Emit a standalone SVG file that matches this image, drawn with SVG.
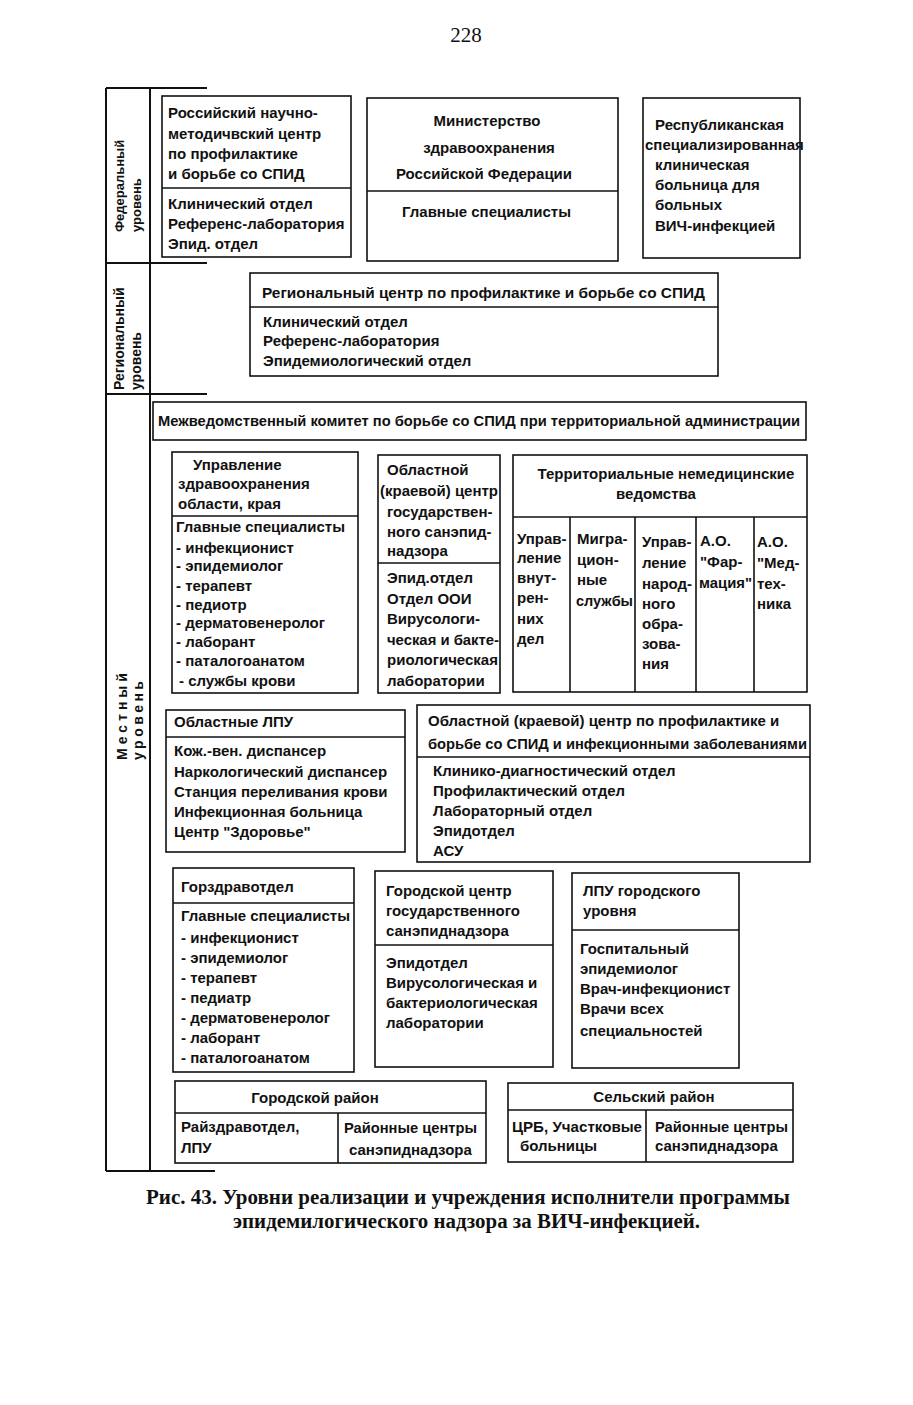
<svg xmlns="http://www.w3.org/2000/svg" width="913" height="1405" viewBox="0 0 913 1405">
<style>
.bg{fill:#fff}
.b{fill:none;stroke:#111;stroke-width:1.6}
.ln{stroke:#111;stroke-width:1.6;fill:none}
.fr{stroke:#111;stroke-width:2;fill:none}
.t{font-family:"Liberation Sans",Arial,sans-serif;font-size:15px;font-weight:bold;fill:#111}
.c{text-anchor:middle}
.lv{font-family:"Liberation Sans",Arial,sans-serif;font-size:13px;font-weight:bold;fill:#111}
.cap{font-family:"Liberation Serif","Times New Roman",serif;font-size:20px;font-weight:bold;fill:#111}
.pg{font-family:"Liberation Serif","Times New Roman",serif;font-size:21px;fill:#111}
</style>
<rect class="bg" x="0" y="0" width="913" height="1405"/>
<text class="pg" x="466" y="42" text-anchor="middle">228</text>

<g id="levels">
<line class="fr" x1="106" y1="88" x2="106" y2="1171"/>
<line class="fr" x1="150" y1="88" x2="150" y2="1171"/>
<line class="fr" x1="106" y1="88" x2="207" y2="88"/>
<line class="fr" x1="106" y1="263" x2="207" y2="263"/>
<line class="fr" x1="106" y1="394" x2="207" y2="394"/>
<line class="fr" x1="106" y1="1171" x2="215" y2="1171"/>
<text class="lv" transform="translate(124,232) rotate(-90)">Федеральный</text>
<text class="lv" transform="translate(141,232) rotate(-90)">уровень</text>
<text class="lv" transform="translate(124,390) rotate(-90)" style="font-size:14px">Региональный</text>
<text class="lv" transform="translate(141,390) rotate(-90)" style="font-size:14px">уровень</text>
<text class="lv" transform="translate(127,760) rotate(-90)" style="font-size:14px;letter-spacing:4px">Местный</text>
<text class="lv" transform="translate(143,760) rotate(-90)" style="font-size:14px;letter-spacing:3.5px">уровень</text>
</g>

<g id="node-rnmc">
<rect class="b" x="162" y="96" width="189" height="161"/>
<line class="ln" x1="162" y1="188" x2="351" y2="188"/>
<text class="t" x="168" y="118">Российский научно-</text>
<text class="t" x="168" y="139">методичвский центр</text>
<text class="t" x="168" y="159">по профилактике</text>
<text class="t" x="168" y="179">и борьбе со СПИД</text>
<text class="t" x="168" y="209">Клинический отдел</text>
<text class="t" x="168" y="229">Референс-лаборатория</text>
<text class="t" x="168" y="249">Эпид. отдел</text>
</g>

<g id="node-minzdrav">
<rect class="b" x="367" y="98" width="251" height="163"/>
<line class="ln" x1="367" y1="191" x2="618" y2="191"/>
<text class="t c" x="487" y="126">Министерство</text>
<text class="t c" x="489" y="153">здравоохранения</text>
<text class="t c" x="484" y="179">Российской Федерации</text>
<text class="t" x="402" y="217">Главные специалисты</text>
</g>

<g id="node-rskb">
<rect class="b" x="643" y="98" width="157" height="160"/>
<text class="t" x="655" y="130">Республиканская</text>
<text class="t" x="645" y="150">специализированная</text>
<text class="t" x="655" y="170">клиническая</text>
<text class="t" x="655" y="190">больница для</text>
<text class="t" x="655" y="210">больных</text>
<text class="t" x="655" y="231">ВИЧ-инфекцией</text>
</g>

<g id="node-regional">
<rect class="b" x="250" y="273" width="468" height="103"/>
<line class="ln" x1="250" y1="307" x2="718" y2="307"/>
<text class="t" x="262" y="298" textLength="443" lengthAdjust="spacingAndGlyphs">Региональный центр по профилактике и борьбе со СПИД</text>
<text class="t" x="263" y="327">Клинический отдел</text>
<text class="t" x="263" y="346">Референс-лаборатория</text>
<text class="t" x="263" y="366">Эпидемиологический отдел</text>
</g>

<g id="node-mezhved">
<rect class="b" x="153" y="402" width="653" height="38"/>
<text class="t" x="158" y="426" textLength="642" lengthAdjust="spacingAndGlyphs">Межведомственный комитет по борьбе со СПИД при территориальной администрации</text>
</g>

<g id="node-upravlenie">
<rect class="b" x="172" y="452" width="186" height="241"/>
<line class="ln" x1="172" y1="516" x2="358" y2="516"/>
<text class="t" x="193" y="470">Управление</text>
<text class="t" x="178" y="489">здравоохранения</text>
<text class="t" x="178" y="509">области, края</text>
<text class="t" x="176" y="532">Главные специалисты</text>
<text class="t" x="176" y="553">- инфекционист</text>
<text class="t" x="176" y="571">- эпидемиолог</text>
<text class="t" x="176" y="591">- терапевт</text>
<text class="t" x="176" y="610">- педиотр</text>
<text class="t" x="176" y="628">- дерматовенеролог</text>
<text class="t" x="176" y="647">- лаборант</text>
<text class="t" x="176" y="666">- паталогоанатом</text>
<text class="t" x="179" y="686">- службы крови</text>
</g>

<g id="node-oblsanepid">
<rect class="b" x="378" y="455" width="122" height="238"/>
<line class="ln" x1="378" y1="563" x2="500" y2="563"/>
<text class="t" x="387" y="475">Областной</text>
<text class="t" x="380" y="496" textLength="118" lengthAdjust="spacingAndGlyphs">(краевой) центр</text>
<text class="t" x="387" y="517">государствен-</text>
<text class="t" x="387" y="537">ного санэпид-</text>
<text class="t" x="387" y="556">надзора</text>
<text class="t" x="387" y="583">Эпид.отдел</text>
<text class="t" x="387" y="604">Отдел ООИ</text>
<text class="t" x="387" y="624">Вирусологи-</text>
<text class="t" x="387" y="645" textLength="112" lengthAdjust="spacingAndGlyphs">ческая и бакте-</text>
<text class="t" x="387" y="665">риологическая</text>
<text class="t" x="387" y="686">лаборатории</text>
</g>

<g id="node-nonmedical">
<rect class="b" x="513" y="455" width="294" height="237"/>
<line class="ln" x1="513" y1="517" x2="807" y2="517"/>
<line class="ln" x1="570" y1="517" x2="570" y2="692"/>
<line class="ln" x1="635" y1="517" x2="635" y2="692"/>
<line class="ln" x1="696" y1="517" x2="696" y2="692"/>
<line class="ln" x1="754" y1="517" x2="754" y2="692"/>
<text class="t c" x="666" y="479">Территориальные немедицинские</text>
<text class="t c" x="656" y="499">ведомства</text>
<text class="t" x="517" y="544">Управ-</text>
<text class="t" x="517" y="563">ление</text>
<text class="t" x="517" y="583">внут-</text>
<text class="t" x="517" y="603">рен-</text>
<text class="t" x="517" y="624">них</text>
<text class="t" x="517" y="644">дел</text>
<text class="t" x="577" y="544">Мигра-</text>
<text class="t" x="577" y="565">цион-</text>
<text class="t" x="577" y="585">ные</text>
<text class="t" x="576" y="606" textLength="57" lengthAdjust="spacingAndGlyphs">службы</text>
<text class="t" x="642" y="547">Управ-</text>
<text class="t" x="642" y="568">ление</text>
<text class="t" x="642" y="589">народ-</text>
<text class="t" x="642" y="609">ного</text>
<text class="t" x="642" y="629">обра-</text>
<text class="t" x="642" y="649">зова-</text>
<text class="t" x="642" y="669">ния</text>
<text class="t" x="700" y="546">А.О.</text>
<text class="t" x="700" y="567">"Фар-</text>
<text class="t" x="699" y="588" textLength="53" lengthAdjust="spacingAndGlyphs">мация"</text>
<text class="t" x="757" y="547">А.О.</text>
<text class="t" x="757" y="568">"Мед-</text>
<text class="t" x="757" y="589">тех-</text>
<text class="t" x="757" y="609">ника</text>
</g>

<g id="node-oblLPU">
<rect class="b" x="166" y="710" width="239" height="142"/>
<line class="ln" x1="166" y1="737" x2="405" y2="737"/>
<text class="t" x="174" y="727">Областные ЛПУ</text>
<text class="t" x="174" y="756">Кож.-вен. диспансер</text>
<text class="t" x="174" y="777">Наркологический диспансер</text>
<text class="t" x="174" y="797">Станция переливания крови</text>
<text class="t" x="174" y="817">Инфекционная больница</text>
<text class="t" x="174" y="837">Центр "Здоровье"</text>
</g>

<g id="node-oblSPID">
<rect class="b" x="417" y="705" width="393" height="157"/>
<line class="ln" x1="417" y1="757" x2="810" y2="757"/>
<text class="t" x="428" y="726">Областной (краевой) центр по профилактике и</text>
<text class="t" x="428" y="749" textLength="379" lengthAdjust="spacingAndGlyphs">борьбе со СПИД и инфекционными заболеваниями</text>
<text class="t" x="433" y="776">Клинико-диагностический отдел</text>
<text class="t" x="433" y="796">Профилактический отдел</text>
<text class="t" x="433" y="816">Лабораторный отдел</text>
<text class="t" x="433" y="836">Эпидотдел</text>
<text class="t" x="433" y="856">АСУ</text>
</g>

<g id="node-gorzdrav">
<rect class="b" x="173" y="868" width="181" height="204"/>
<line class="ln" x1="173" y1="903" x2="354" y2="903"/>
<text class="t" x="181" y="892">Горздравотдел</text>
<text class="t" x="181" y="921">Главные специалисты</text>
<text class="t" x="181" y="943">- инфекционист</text>
<text class="t" x="181" y="963">- эпидемиолог</text>
<text class="t" x="181" y="983">- терапевт</text>
<text class="t" x="181" y="1003">- педиатр</text>
<text class="t" x="181" y="1023">- дерматовенеролог</text>
<text class="t" x="181" y="1043">- лаборант</text>
<text class="t" x="181" y="1063">- паталогоанатом</text>
</g>

<g id="node-gorsanepid">
<rect class="b" x="375" y="871" width="178" height="196"/>
<line class="ln" x1="375" y1="945" x2="553" y2="945"/>
<text class="t" x="386" y="896">Городской центр</text>
<text class="t" x="386" y="916">государственного</text>
<text class="t" x="386" y="936">санэпиднадзора</text>
<text class="t" x="386" y="968">Эпидотдел</text>
<text class="t" x="386" y="988">Вирусологическая и</text>
<text class="t" x="386" y="1008">бактериологическая</text>
<text class="t" x="386" y="1028">лаборатории</text>
</g>

<g id="node-gorLPU">
<rect class="b" x="572" y="873" width="167" height="195"/>
<line class="ln" x1="572" y1="930" x2="739" y2="930"/>
<text class="t" x="583" y="896">ЛПУ городского</text>
<text class="t" x="583" y="916">уровня</text>
<text class="t" x="580" y="954">Госпитальный</text>
<text class="t" x="580" y="974">эпидемиолог</text>
<text class="t" x="580" y="994">Врач-инфекционист</text>
<text class="t" x="580" y="1014">Врачи всех</text>
<text class="t" x="580" y="1036">специальностей</text>
</g>

<g id="node-gorrayon">
<rect class="b" x="175" y="1081" width="311" height="82"/>
<line class="ln" x1="175" y1="1113" x2="486" y2="1113"/>
<line class="ln" x1="338" y1="1113" x2="338" y2="1163"/>
<text class="t c" x="315" y="1103">Городской район</text>
<text class="t" x="181" y="1132">Райздравотдел,</text>
<text class="t" x="181" y="1153">ЛПУ</text>
<text class="t" x="344" y="1133" textLength="133" lengthAdjust="spacingAndGlyphs">Районные центры</text>
<text class="t" x="349" y="1155">санэпиднадзора</text>
</g>

<g id="node-selrayon">
<rect class="b" x="508" y="1083" width="285" height="79"/>
<line class="ln" x1="508" y1="1110" x2="793" y2="1110"/>
<line class="ln" x1="646" y1="1110" x2="646" y2="1162"/>
<text class="t c" x="654" y="1102">Сельский район</text>
<text class="t" x="512" y="1132" textLength="130" lengthAdjust="spacingAndGlyphs">ЦРБ, Участковые</text>
<text class="t" x="520" y="1151">больницы</text>
<text class="t" x="655" y="1132" textLength="133" lengthAdjust="spacingAndGlyphs">Районные центры</text>
<text class="t" x="655" y="1151">санэпиднадзора</text>
</g>

<g id="caption">
<text class="cap" x="146" y="1204" textLength="644" lengthAdjust="spacingAndGlyphs">Рис. 43.  Уровни реализации и учреждения исполнители программы</text>
<text class="cap" x="233" y="1228" textLength="467" lengthAdjust="spacingAndGlyphs">эпидемилогического надзора за ВИЧ-инфекцией.</text>
</g>
</svg>
